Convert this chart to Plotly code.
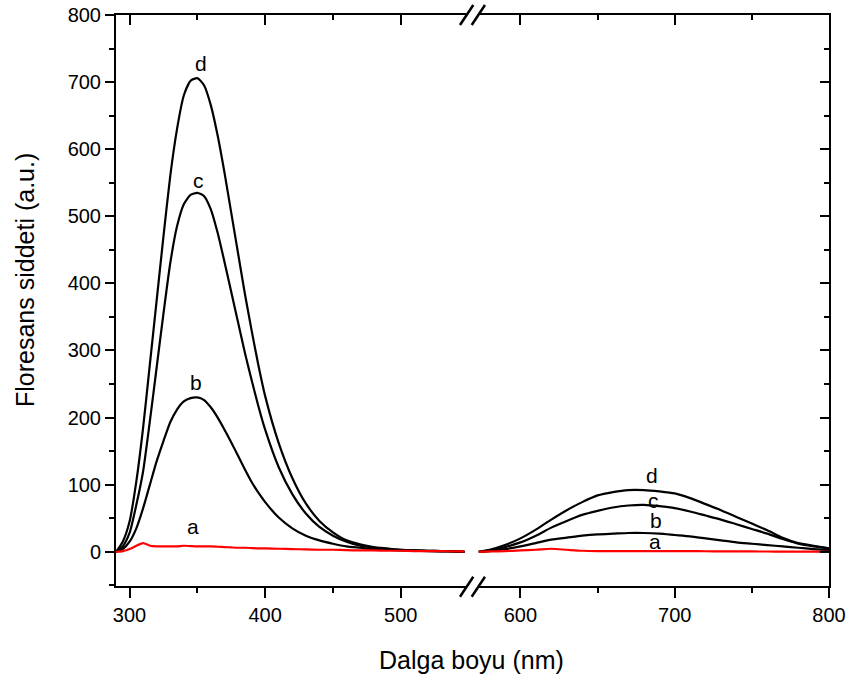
import plotly.graph_objects as go

# ---------------- data ----------------
wl_left = [290, 295, 300, 305, 310, 315, 320, 325, 330, 335, 340, 345, 350, 355, 360,
           365, 370, 375, 380, 385, 390, 395, 400, 410, 420, 430, 440, 450, 460, 470,
           480, 490, 500, 510, 520, 530, 540, 547]
d_left = [0, 15, 45, 105, 185, 280, 375, 470, 560, 630, 680, 702, 706, 695, 665,
          620, 565, 505, 445, 385, 330, 278, 232, 162, 110, 72, 46, 29, 17, 11,
          7, 5, 3, 2, 1.5, 1, 0.5, 0]
c_left = [0, 8, 28, 70, 120, 195, 275, 355, 430, 485, 518, 532, 535, 530, 510,
          475, 432, 387, 342, 297, 256, 217, 182, 126, 86, 57, 37, 24, 15, 9,
          6, 4, 3, 2, 1.5, 1, 0.5, 0]
b_left = [0, 4, 15, 35, 65, 100, 135, 165, 193, 212, 224, 229, 230, 226, 215,
          200, 182, 163, 143, 123, 104, 88, 74, 51, 35, 24, 17, 12, 8, 6,
          4, 3, 2, 1.5, 1, 0.5, 0.3, 0]
a_left = [0, 1, 4, 9, 13, 9, 8, 8, 8, 8, 9, 8.5, 8, 8, 8,
          7.5, 7, 6.5, 6, 6, 5.5, 5, 5, 4.5, 4, 3.5, 3, 3, 2.5, 2,
          2, 1.5, 1.5, 1, 1, 1, 0.5, 0.5]

wl_right = [573, 580, 590, 600, 610, 620, 630, 640, 650, 660, 670, 680, 690, 700,
            710, 720, 730, 740, 750, 760, 770, 780, 790, 800]
d_right = [0, 3, 10, 20, 33, 48, 62, 74, 84, 89, 92, 92, 90, 87,
           80, 71, 62, 52, 42, 32, 21, 13, 9, 5]
c_right = [0, 2, 7, 14, 24, 36, 46, 55, 61, 66, 69, 70, 68, 65,
           60, 54, 48, 41, 34, 27, 19, 12, 8, 5]
b_right = [0, 1, 4, 8, 13, 18, 21, 24, 26, 27, 28, 28, 27, 25,
           23, 20, 17, 14, 12, 10, 8, 6, 4, 2.5]
a_right = [0, 0.5, 1, 2, 3, 4.5, 3, 1.5, 1, 1, 1, 1, 1, 1,
           1, 0.8, 0.7, 0.6, 0.5, 0.4, 0.3, 0.2, 0.1, 0]

labels = ["a", "b", "c", "d"]
label_left_pos = {"d": (353, 728), "c": (351, 553), "b": (349, 252), "a": (347, 37)}
label_right_pos = {"d": (685, 114), "c": (686, 77), "b": (688, 47), "a": (687, 15)}

x_ticks_left = [300, 400, 500]
x_ticks_right = [600, 700, 800]
y_range = [-51, 800]
x_range_left = [290, 548.1]
x_range_right = [572.5, 800]

# ---------------- figure ----------------
FONT = "Liberation Sans, Arial, sans-serif"
fig = go.Figure()

series_left = {"a": a_left, "b": b_left, "c": c_left, "d": d_left}
series_right = {"a": a_right, "b": b_right, "c": c_right, "d": d_right}
for name in ["d", "c", "b", "a"]:
    col = "#ff0000" if name == "a" else "#000000"
    fig.add_trace(go.Scatter(x=wl_left, y=series_left[name], mode="lines",
                             line=dict(color=col, width=2.2, shape="spline", smoothing=0.6),
                             xaxis="x", yaxis="y", showlegend=False, hoverinfo="skip"))
    fig.add_trace(go.Scatter(x=wl_right, y=series_right[name], mode="lines",
                             line=dict(color=col, width=2.2, shape="spline", smoothing=0.6),
                             xaxis="x2", yaxis="y", showlegend=False, hoverinfo="skip"))

# empty traces so overlay (mirror) axes get drawn
fig.add_trace(go.Scatter(x=[], y=[], xaxis="x3", yaxis="y", showlegend=False))
fig.add_trace(go.Scatter(x=[], y=[], xaxis="x4", yaxis="y", showlegend=False))
fig.add_trace(go.Scatter(x=[], y=[], xaxis="x2", yaxis="y2", showlegend=False))

W, H = 849, 681
L, R, T = 116, 20, 15
PH = 571
B = H - T - PH
PW = W - L - R
def px(wx):
    return (wx - L) / PW
def py(wy):
    return (T + PH - wy) / PH

dl = [0, px(466)]
dr = [px(478), 1]

common_x = dict(showline=True, linecolor="black", linewidth=2, showgrid=False,
                zeroline=False, tickcolor="black", tickwidth=2, automargin=False,
                ticklabeloverflow="allow",
                tickfont=dict(family=FONT, size=20, color="black"))

fig.update_layout(
    width=W, height=H, margin=dict(l=L, r=R, t=T, b=B, autoexpand=False),
    paper_bgcolor="white", plot_bgcolor="white",
    xaxis=dict(domain=dl, range=x_range_left, tickmode="array", tickvals=x_ticks_left,
               ticks="outside", ticklen=10, anchor="y",
               minor=dict(tickmode="array", tickvals=[350, 450], ticklen=5,
                          tickwidth=2, tickcolor="black", ticks="outside"),
               **common_x),
    xaxis2=dict(domain=dr, range=x_range_right, tickmode="array", tickvals=x_ticks_right,
                ticks="outside", ticklen=10, anchor="y",
                minor=dict(tickmode="array", tickvals=[650, 750], ticklen=5,
                           tickwidth=2, tickcolor="black", ticks="outside"),
                **common_x),
    xaxis3=dict(domain=dl, range=x_range_left, overlaying="x", side="top", anchor="y",
                tickmode="array", tickvals=x_ticks_left, ticks="inside", ticklen=10,
                showticklabels=False,
                minor=dict(tickmode="array", tickvals=[350, 450], ticklen=5,
                           tickwidth=2, tickcolor="black", ticks="inside"),
                **common_x),
    xaxis4=dict(domain=dr, range=x_range_right, overlaying="x2", side="top", anchor="y",
                tickmode="array", tickvals=x_ticks_right, ticks="inside", ticklen=10,
                showticklabels=False,
                minor=dict(tickmode="array", tickvals=[650, 750], ticklen=5,
                           tickwidth=2, tickcolor="black", ticks="inside"),
                **common_x),
    yaxis=dict(range=y_range, tickmode="linear", tick0=0, dtick=100, ticks="outside",
               ticklen=9, anchor="x", showline=True, linecolor="black", linewidth=2,
               showgrid=False, zeroline=False, tickcolor="black", tickwidth=2,
               automargin=False, ticklabeloverflow="allow",
               tickfont=dict(family=FONT, size=20, color="black"),
               minor=dict(tick0=0, dtick=50, ticklen=5, tickwidth=2,
                          tickcolor="black", ticks="outside")),
    yaxis2=dict(range=y_range, overlaying="y", side="right", anchor="x2",
                tickmode="linear", tick0=0, dtick=100, ticks="inside", ticklen=9,
                showticklabels=False, showline=True, linecolor="black", linewidth=2,
                showgrid=False, zeroline=False, tickcolor="black", tickwidth=2,
                automargin=False,
                minor=dict(tick0=0, dtick=50, ticklen=5, tickwidth=2,
                           tickcolor="black", ticks="inside")),
)

# axis titles
fig.add_annotation(text="Dalga boyu (nm)", xref="paper", yref="paper",
                   x=px(471), y=py(660), xanchor="center", yanchor="middle",
                   showarrow=False, font=dict(family=FONT, size=25, color="black"))
fig.add_annotation(text="Floresans siddeti (a.u.)", xref="paper", yref="paper",
                   x=px(25), y=py(280), xanchor="center", yanchor="middle",
                   showarrow=False, textangle=-90,
                   font=dict(family=FONT, size=25, color="black"))

# curve labels
for name in labels:
    x, y = label_left_pos[name]
    fig.add_annotation(text=name, x=x, y=y, xref="x", yref="y", showarrow=False,
                       font=dict(family=FONT, size=21, color="black"))
    x, y = label_right_pos[name]
    fig.add_annotation(text=name, x=x, y=y, xref="x2", yref="y", showarrow=False,
                       font=dict(family=FONT, size=21, color="black"))

# axis break marks
for ytop, ybot in [(576.7, 596.7), (5, 25)]:
    for x0 in [460, 471.7]:
        fig.add_shape(type="line", xref="paper", yref="paper",
                      x0=px(x0), y0=py(ybot), x1=px(x0 + 13.3), y1=py(ytop),
                      line=dict(color="black", width=2.5))

fig.write_html("out.html", config={"displayModeBar": False},
               post_script="document.body.style.margin='0';document.body.style.overflow='hidden';")
